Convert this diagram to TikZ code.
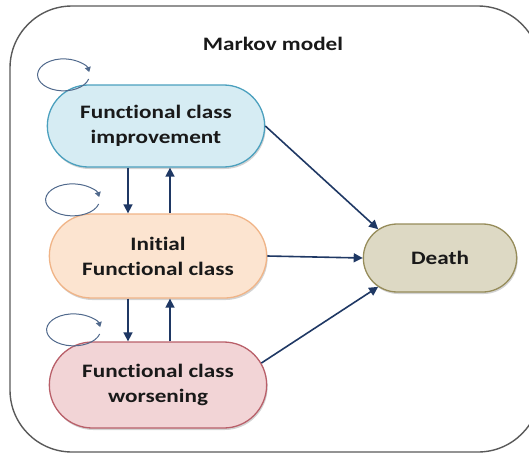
\documentclass[tikz,border=0pt]{standalone}
\usepackage{fontspec}
\setmainfont{Carlito}
\newfontfamily\boxfont[FakeStretch=1.22, Ligatures=NoCommon]{Carlito}
\usetikzlibrary{shapes.misc,arrows.meta,shadows}

\definecolor{impfill}{RGB}{214,236,243}
\definecolor{impline}{RGB}{75,160,190}
\definecolor{initfill}{RGB}{252,228,208}
\definecolor{initline}{RGB}{240,180,135}
\definecolor{worsfill}{RGB}{242,212,214}
\definecolor{worsline}{RGB}{185,95,105}
\definecolor{deathfill}{RGB}{221,217,196}
\definecolor{deathline}{RGB}{150,140,90}
\definecolor{arrowblue}{RGB}{31,56,100}
\definecolor{loopblue}{RGB}{80,105,140}

\begin{document}
\begin{tikzpicture}[x=1pt, y=-1pt,
    state/.style={rounded rectangle, draw, line width=1.3pt, minimum width=224pt, minimum height=84pt,
        align=center, font=\boxfont\fontsize{19}{25}\selectfont\bfseries, text=black!90,
        drop shadow={shadow xshift=1pt, shadow yshift=-2pt, opacity=.35}},
    arr/.style={draw=arrowblue, line width=1.6pt, -{Triangle[length=9pt,width=9pt]}},
    selfloop/.style={draw=loopblue, line width=1pt, -{Triangle[length=5pt,width=6pt]}}]
    \useasboundingbox (0,0) rectangle (529,455);
    \draw[black!65, line width=1.4pt, rounded corners=62pt] (10,6) rectangle (540,452);
    \node[font=\boxfont\fontsize{19}{24}\selectfont\bfseries, text=black!90] (title) at (273,44) {Markov model};
    \node[state, fill=impfill, draw=impline, minimum height=82pt] (imp) at (156,126) {Functional class\\improvement};
    \node[state, fill=initfill, draw=initline] (init) at (158,256) {Initial\\Functional class};
    \node[state, fill=worsfill, draw=worsline, minimum height=86pt] (wors) at (158,385) {Functional class\\worsening};
    \node[state, fill=deathfill, draw=deathline, minimum width=160pt, minimum height=68pt] (death) at (440,258) {Death};
    % transitions between classes
    \draw[arr] ([xshift=-28pt]imp.south) -- ([xshift=-30pt]init.north);
    \draw[arr] ([xshift=12pt]init.north) -- ([xshift=14pt]imp.south);
    \draw[arr] ([xshift=-30pt]init.south) -- ([xshift=-30pt]wors.north);
    \draw[arr] ([xshift=12pt]wors.north) -- ([xshift=12pt]init.south);
    % to death
    \draw[arr] (imp.east) -- (death.155);
    \draw[arr] (init.east) -- (death.west);
    \draw[arr] (wors.12) -- (death.205);
    % staying in the same class
    \draw[selfloop] ([shift={(42,-47)}]imp.west) arc[start angle=-15, end angle=-350, x radius=26pt, y radius=16pt];
    \draw[selfloop] ([shift={(50,-52)}]init.west) arc[start angle=-15, end angle=-350, x radius=27pt, y radius=16pt];
    \draw[selfloop] ([shift={(51,-51)}]wors.west) arc[start angle=-15, end angle=-350, x radius=27pt, y radius=16pt];
\end{tikzpicture}
\end{document}
